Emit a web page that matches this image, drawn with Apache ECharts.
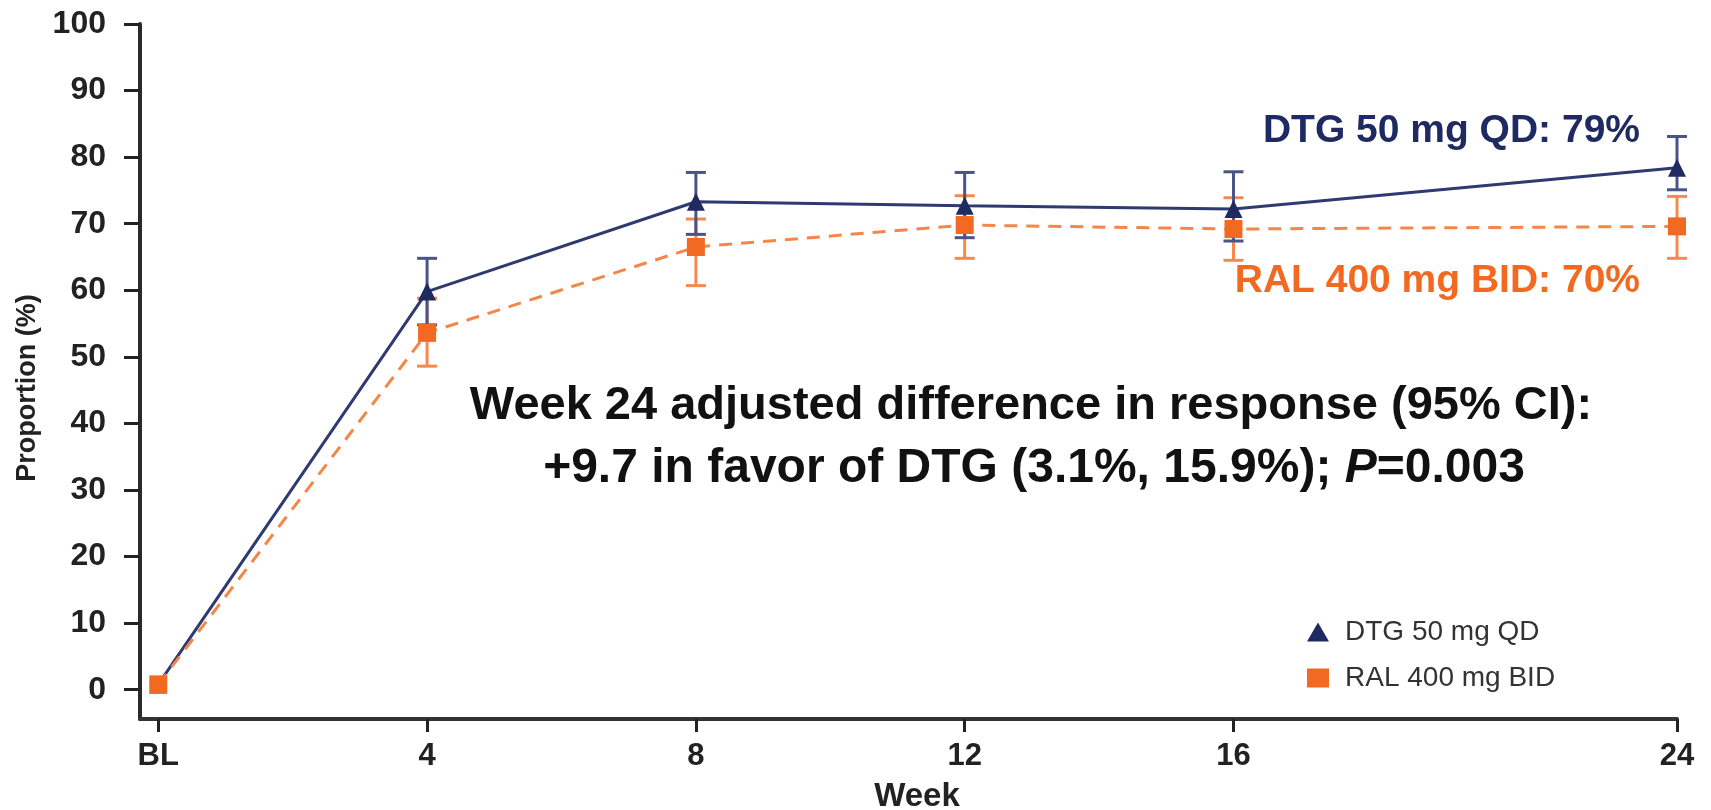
<!DOCTYPE html>
<html>
<head>
<meta charset="utf-8">
<script src="https://cdn.jsdelivr.net/npm/echarts@6/dist/echarts.min.js"></script>
<style>
html,body{margin:0;padding:0;background:#fff;}
#chart{width:1711px;height:810px;}
</style>
</head>
<body>
<div id="chart"></div>
<script>
// ---- data ----
const weekLabels = ['BL', '4', '8', '12', '16', '24'];
// position of each visit along the (non-proportional) week axis of the original figure
const weekAxisPos = [0, 1, 2, 3, 4, 5.65];
const yTicks = [0, 10, 20, 30, 40, 50, 60, 70, 80, 90, 100];
const dtgValues = [0.8, 59.8, 73.3, 72.7, 72.2, 78.4];
const dtgLower  = [null, 54.8, 68.4, 67.9, 67.4, 75.1];
const dtgUpper  = [null, 64.8, 77.7, 77.7, 77.8, 83.1];
const ralValues = [0.8, 53.6, 66.5, 69.8, 69.2, 69.6];
const ralLower  = [null, 48.6, 60.7, 64.8, 64.5, 64.8];
const ralUpper  = [null, 58.8, 70.7, 74.2, 73.9, 74.1];
const seriesNames = ['DTG 50 mg QD', 'RAL 400 mg BID'];
const endLabels = ['DTG 50 mg QD: 79%', 'RAL 400 mg BID: 70%'];

const NAVY = '#1f2a62';
const ORANGE = '#f26a21';
const FONT = '"Liberation Sans", Arial, Helvetica, sans-serif';

function pairs(vals) { return weekAxisPos.map((p, i) => [p, vals[i]]); }

function errorSeries(name, lower, upper, color, z) {
  const data = [];
  weekAxisPos.forEach((p, i) => { if (lower[i] != null) data.push([p, lower[i], upper[i]]); });
  return {
    type: 'custom', name: name, z: z, silent: true,
    data: data,
    encode: { x: 0, y: [1, 2] },
    renderItem: function (params, api) {
      const lo = api.coord([api.value(0), api.value(1)]);
      const hi = api.coord([api.value(0), api.value(2)]);
      const hw = 10;
      const st = { stroke: color, lineWidth: 3, fill: null };
      return {
        type: 'group',
        children: [
          { type: 'line', shape: { x1: lo[0], y1: lo[1], x2: hi[0], y2: hi[1] }, style: st },
          { type: 'line', shape: { x1: lo[0] - hw, y1: lo[1], x2: lo[0] + hw, y2: lo[1] }, style: st },
          { type: 'line', shape: { x1: hi[0] - hw, y1: hi[1], x2: hi[0] + hw, y2: hi[1] }, style: st }
        ]
      };
    }
  };
}

const chart = echarts.init(document.getElementById('chart'), null, { renderer: 'canvas' });

const option = {
  animation: false,
  backgroundColor: '#fff',
  grid: { left: 140, right: 34, top: 24, bottom: 91, containLabel: false, outerBoundsMode: 'none' },
  xAxis: {
    type: 'value', min: -0.068, max: 5.65,
    axisLine: { show: true, onZero: false, lineStyle: { color: '#333', width: 4 } },
    axisTick: { show: true, customValues: weekAxisPos, length: 13, lineStyle: { color: '#222', width: 3 } },
    axisLabel: {
      customValues: weekAxisPos, margin: 22,
      formatter: function (v) { const i = weekAxisPos.indexOf(v); return i >= 0 ? weekLabels[i] : ''; },
      fontSize: 31, fontWeight: 'bold', color: '#222', fontFamily: FONT
    },
    splitLine: { show: false }
  },
  yAxis: {
    type: 'value', min: -4.4, max: 100,
    axisLine: { show: true, onZero: false, lineStyle: { color: '#2a2a2a', width: 4 } },
    axisTick: { show: true, customValues: yTicks, length: 16, lineStyle: { color: '#222', width: 3 } },
    axisLabel: {
      customValues: yTicks, margin: 34,
      fontSize: 32, fontWeight: 'bold', color: '#222', fontFamily: FONT
    },
    splitLine: { show: false }
  },
  legend: {
    orient: 'vertical', left: 1302, top: 613,
    itemWidth: 22, itemHeight: 19, itemGap: 18,
    data: [{ name: seriesNames[0], icon: 'triangle' }, { name: seriesNames[1], icon: 'rect' }],
    itemStyle: { borderWidth: 0 },
    textStyle: { fontSize: 28, color: '#333', fontFamily: FONT, padding: [0, 0, 0, 11] }
  },
  series: [
    errorSeries('RAL CI', ralLower, ralUpper, '#f58a4c', 1),
    errorSeries('DTG CI', dtgLower, dtgUpper, '#4a5488', 2),
    {
      type: 'line', name: seriesNames[0], z: 3,
      data: pairs(dtgValues),
      symbol: 'triangle', symbolSize: 18,
      itemStyle: { color: NAVY },
      lineStyle: { color: '#2e3a70', width: 3 }
    },
    {
      type: 'line', name: seriesNames[1], z: 4,
      data: pairs(ralValues),
      symbol: 'rect', symbolSize: 18,
      itemStyle: { color: ORANGE },
      lineStyle: { color: '#f5864a', width: 3, type: [13, 9] }
    }
  ],
  graphic: [
    {
      type: 'text', x: 28, y: 388, rotation: Math.PI / 2,
      style: { text: 'Proportion (%)', align: 'center', verticalAlign: 'middle',
               fontSize: 27, fontWeight: 'bold', fill: '#222', fontFamily: FONT }
    },
    {
      type: 'text', x: 917, y: 797,
      style: { text: 'Week', align: 'center', verticalAlign: 'middle',
               fontSize: 33, fontWeight: 'bold', fill: '#222', fontFamily: FONT }
    },
    {
      type: 'text', x: 1640, y: 131,
      style: { text: endLabels[0], align: 'right', verticalAlign: 'middle',
               fontSize: 39, fontWeight: 'bold', fill: NAVY, fontFamily: FONT }
    },
    {
      type: 'text', x: 1640, y: 281,
      style: { text: endLabels[1], align: 'right', verticalAlign: 'middle',
               fontSize: 39, fontWeight: 'bold', fill: ORANGE, fontFamily: FONT }
    },
    {
      type: 'text', x: 1031, y: 406,
      style: { text: 'Week 24 adjusted difference in response (95% CI):', align: 'center', verticalAlign: 'middle',
               fontSize: 47, fontWeight: 'bold', fill: '#111', fontFamily: FONT }
    },
    {
      type: 'text', x: 1034, y: 469,
      style: {
        text: '{b|+9.7 in favor of DTG (3.1%, 15.9%); }{i|P}{b|=0.003}',
        align: 'center', verticalAlign: 'middle',
        rich: {
          b: { fontSize: 48, fontWeight: 'bold', fill: '#111', fontFamily: FONT },
          i: { fontSize: 48, fontWeight: 'bold', fontStyle: 'italic', fill: '#111', fontFamily: FONT }
        }
      }
    }
  ]
};
chart.setOption(option);
</script>
</body>
</html>
